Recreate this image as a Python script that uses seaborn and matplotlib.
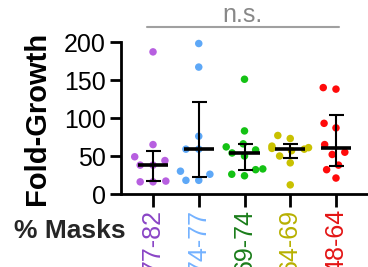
import numpy as np
import pandas as pd
import seaborn as sns
import matplotlib.pyplot as plt

# mask-usage bins and fold-growth values
groups = ["77-82", "74-77", "69-74", "64-69", "48-64"]
purple_vals = [187, 65, 49, 44, 38, 38, 17, 16, 16]
blue_vals = [198, 167, 76, 59, 59, 30, 26, 18, 18]
green_vals = [151, 83, 66, 62, 58, 54, 50, 33, 32, 26, 24]
yellow_vals = [77, 73, 63, 61, 60, 59, 57, 50, 41, 12]
red_vals = [140, 138, 93, 87, 65, 55, 52, 38, 32, 21]

dot_colors = ["#b75fe0", "#5ea8f7", "#14c214", "#c9c100", "#ff0a0a"]
label_colors = ["#8a45c6", "#74b2ff", "#1b7d1b", "#b7b000", "#e31515"]

all_vals = [purple_vals, blue_vals, green_vals, yellow_vals, red_vals]
df = pd.DataFrame({
    "mask": np.repeat(groups, [len(v) for v in all_vals]),
    "fold": np.concatenate(all_vals),
})

sns.set_style("ticks")
plt.rcParams["font.family"] = ["Liberation Sans", "DejaVu Sans"]

fig = plt.figure(figsize=(3.68, 2.67), dpi=100)
ax = fig.add_axes([121 / 368, 73 / 267, 247 / 368, 152 / 267])

sns.swarmplot(data=df, x="mask", y="fold", hue="mask", palette=dot_colors,
              order=groups, size=5.4, linewidth=3.4, legend=False, ax=ax,
              clip_on=False, zorder=2)
for coll in ax.collections:
    coll.set_edgecolor("none")

# median with interquartile range (Prism style)
for i, vals in enumerate(all_vals):
    q1, med, q3 = np.percentile(vals, [25, 50, 75], method="weibull")
    ax.errorbar(i, med, yerr=[[med - q1], [q3 - med]], fmt="none", ecolor="black",
                elinewidth=1.5, capsize=5.4, capthick=1.5, zorder=3, clip_on=False)
    ax.hlines(med, i - 0.33, i + 0.33, color="black", lw=2.6, zorder=4)

ax.set_xlim(-0.7, 4.7)
ax.set_ylim(0, 200)
ax.set_yticks([0, 50, 100, 150, 200])
ax.set_xlabel("")
ax.set_ylabel("Fold-Growth", fontsize=21, fontweight="bold", labelpad=9, color="black")

for side in ["top", "right"]:
    ax.spines[side].set_visible(False)
for side in ["left", "bottom"]:
    ax.spines[side].set_linewidth(2)
    ax.spines[side].set_color("black")

ax.tick_params(axis="y", labelsize=18, length=8, width=2, pad=3, color="black",
               labelcolor="black")
ax.tick_params(axis="x", labelsize=18, length=9.5, width=2, pad=1, color="black")
ax.set_xticks(range(len(groups)))
ax.set_xticklabels(groups, rotation=90, va="top")
for lbl, c in zip(ax.get_xticklabels(), label_colors):
    lbl.set_color(c)

# significance bar
ax.plot([-0.13, 4.07], [219.5, 219.5], color="#a0a0a0", lw=1.5, clip_on=False)
ax.text(1.95, 226, "n.s.", color="#888888", fontsize=18, ha="center", va="baseline")

fig.text(126 / 368, (267 - 238) / 267, "% Masks", fontsize=19, fontweight="bold",
         ha="right", va="baseline")

fig.savefig("out.png", dpi=100)
